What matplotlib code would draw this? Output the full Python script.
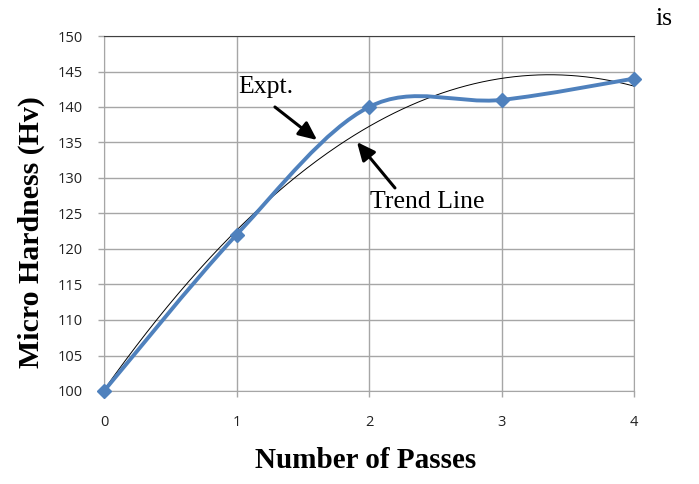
import numpy as np
import matplotlib.pyplot as plt
from matplotlib.path import Path
from matplotlib.patches import PathPatch

# micro hardness vs number of friction stir passes
passes = [0, 1, 2, 3, 4]
hardness = [100, 122, 140, 141, 144]
y_ticks = [100, 105, 110, 115, 120, 125, 130, 135, 140, 145, 150]

blue = '#4F81BD'
grid_col = '#A6A6A6'
serif = 'Liberation Serif'


def smooth_path(x, y):
    # Excel-style smoothed line: cubic Bezier segments with Catmull-Rom control points
    pts = np.column_stack([x, y]).astype(float)
    ext = np.vstack([pts[0], pts, pts[-1]])
    verts = [pts[0]]
    codes = [Path.MOVETO]
    for i in range(len(pts) - 1):
        p0, p1, p2, p3 = ext[i], ext[i + 1], ext[i + 2], ext[i + 3]
        c1 = p1 + (p2 - p0) / 6.0
        c2 = p2 - (p3 - p1) / 6.0
        verts += [c1, c2, p2]
        codes += [Path.CURVE4] * 3
    return Path(verts, codes)


fig = plt.figure(figsize=(6.99, 4.84), dpi=100)
ax = fig.add_axes([104 / 699, 1 - 391 / 484, 530 / 699, 355 / 484])

ax.set_xlim(0, 4)
ax.set_ylim(100, 150)
ax.set_xticks(passes)
ax.set_yticks(y_ticks)
ax.grid(True, color=grid_col, lw=1.0)
ax.set_axisbelow(True)
for side in ['left', 'right', 'bottom']:
    ax.spines[side].set_color(grid_col)
ax.spines['top'].set_color('#404040')
ax.tick_params(axis='both', colors=grid_col, length=4, width=1.0, labelcolor='#222222',
               labelsize=10.5)
ax.tick_params(axis='y', pad=11)
ax.tick_params(axis='x', pad=13)
for lbl in ax.get_xticklabels() + ax.get_yticklabels():
    lbl.set_family('Open Sans')

# second order polynomial trend line
coef = np.polyfit(passes, hardness, 2)
xt = np.linspace(0, 4, 200)
ax.plot(xt, np.polyval(coef, xt), color='black', lw=0.7, zorder=3)

# measured values, smoothed
ax.add_patch(PathPatch(smooth_path(passes, hardness), facecolor='none', edgecolor=blue,
                       lw=2.8, zorder=4, clip_on=False))
ax.plot(passes, hardness, linestyle='None', marker='D', markersize=7, color=blue,
        zorder=5, clip_on=False)

arrow = dict(arrowstyle='-|>,head_length=1.1,head_width=0.5', color='black',
             lw=2.2, shrinkA=0, shrinkB=0)
ax.annotate('', xy=(1.608, 135.35), xytext=(1.29, 140.0), arrowprops=arrow, zorder=6)
ax.annotate('', xy=(1.909, 135.07), xytext=(2.196, 128.6), arrowprops=arrow, zorder=6)
ax.text(1.011, 142.8, 'Expt.', fontsize=18.5, family=serif, ha='left', va='center', zorder=6)
ax.text(2.008, 126.6, 'Trend Line', fontsize=18.5, family=serif, ha='left', va='center',
        zorder=6)

fig.text(366 / 699, 1 - 461 / 484, 'Number of Passes', fontsize=21, fontweight='bold',
         family=serif, ha='center', va='center')
fig.text(31 / 699, 1 - 232 / 484, 'Micro Hardness (Hv)', fontsize=21.5, fontweight='bold',
         family=serif, ha='center', va='center', rotation=90)

fig.text(655 / 699, 1 - 19 / 484, 'is', fontsize=18.5, family=serif, ha='left', va='center')

fig.savefig('out.png', dpi=100)
